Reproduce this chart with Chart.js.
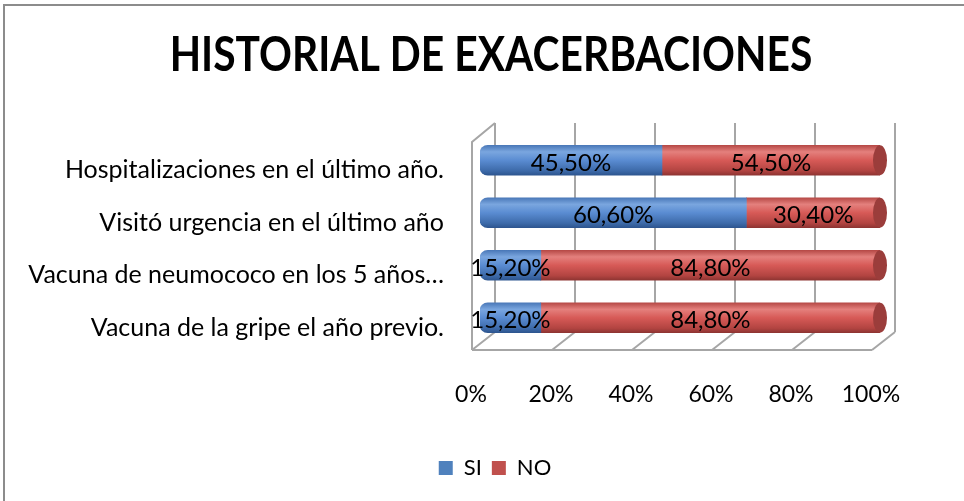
<!DOCTYPE html>
<html>
<head>
<meta charset="utf-8">
<script src="https://cdn.jsdelivr.net/npm/chart.js@4/dist/chart.umd.min.js"></script>
<style>
  html, body { margin: 0; padding: 0; background: #fff; overflow: hidden; }
  #wrap { position: relative; width: 964px; height: 501px; }
  #frame { position: absolute; left: 3px; top: 4px; width: 1000px; height: 600px;
           border-left: 2px solid #8c8c8c; border-top: 2px solid #8c8c8c; }
  #c { position: absolute; left: 0; top: 0; }
</style>
</head>
<body>
<div id="wrap">
  <div id="frame"></div>
  <canvas id="c" width="964" height="501"></canvas>
</div>
<script>
// historial de exacerbaciones - barras apiladas al 100%

const chartTitle = 'HISTORIAL DE EXACERBACIONES'
const categories = [
    'Hospitalizaciones en el último año.',
    'Visitó urgencia en el último año',
    'Vacuna de neumococo en los 5 años…',
    'Vacuna de la gripe el año previo.'
]
const seriesNames = ['SI', 'NO']
const siValues = [45.5, 60.6, 15.2, 15.2]
const noValues = [54.5, 30.4, 84.8, 84.8]

const FONT = 'Lato, "Open Sans", sans-serif'
const legendColors = ['#4f81bd', '#c0504d']

// share of each row (the chart is 100% stacked)
const share = (vals, other) => vals.map((v, i) => v / (v + other[i]) * 100)

const fmt = (v) => v.toFixed(2).replace('.', ',') + '%'

const cylinder = (stops) => (ctx) => {
    const chart = ctx.chart
    const ys = chart.scales.y
    if (!ys || ctx.dataIndex === undefined) return stops[2][1]
    const yc = ys.getPixelForValue(ctx.dataIndex)
    const g = chart.ctx.createLinearGradient(0, yc - 15, 0, yc + 15)
    stops.forEach(s => g.addColorStop(s[0], s[1]))
    return g
}

const blueStops = [[0, '#4a78b8'], [0.22, '#7aa6df'], [0.5, '#5a8cd2'], [0.85, '#3d6aa9'], [1, '#2d558f']]
const redStops = [[0, '#b64946'], [0.22, '#e4807d'], [0.5, '#d75a57'], [0.85, '#b24441'], [1, '#8e3432']]

// 3d frame: back wall, floor, left wall
const framePlugin = {
    id: 'frame3d',
    afterLayout(chart) {
        // the legend sits centred under the whole plot, not under the axis box
        if (chart.legend) chart.legend.left += 110
    },
    beforeDatasetsDraw(chart) {
        const { ctx, chartArea, scales } = chart
        const xs = scales.x
        const fx = -8, bx = 15
        const frontY = chartArea.bottom + 6, backY = chartArea.bottom - 12
        const topBack = chartArea.top - 11, topFront = chartArea.top + 8
        ctx.save()
        ctx.strokeStyle = '#a6a6a6'
        ctx.lineWidth = 2
        ctx.beginPath()
        xs.ticks.forEach(t => {
            const px = xs.getPixelForValue(t.value)
            ctx.moveTo(px + bx, topBack)
            ctx.lineTo(px + bx, backY)
            ctx.moveTo(px + fx, frontY)
            ctx.lineTo(px + bx, backY)
        })
        const x0 = xs.getPixelForValue(0), x1 = xs.getPixelForValue(100)
        ctx.moveTo(x0 + fx, frontY)
        ctx.lineTo(x1 + fx, frontY)
        ctx.moveTo(x0 + fx, frontY)
        ctx.lineTo(x0 + fx, topFront)
        ctx.lineTo(x0 + bx, topBack)
        ctx.stroke()
        ctx.restore()
    }
}

const labelsPlugin = {
    id: 'barLabels',
    afterDatasetsDraw(chart) {
        const ctx = chart.ctx
        ctx.save()
        // right caps of the cylinders
        const last = chart.getDatasetMeta(1)
        last.data.forEach(el => {
            ctx.beginPath()
            ctx.ellipse(el.x, el.y, 7, 15, 0, 0, Math.PI * 2)
            ctx.fillStyle = '#9b3d3b'
            ctx.fill()
        })
        ctx.font = '24px ' + FONT
        ctx.fillStyle = '#000'
        ctx.textAlign = 'center'
        ctx.textBaseline = 'middle'
        const raw = [siValues, noValues]
        chart.data.datasets.forEach((ds, di) => {
            chart.getDatasetMeta(di).data.forEach((el, i) => {
                ctx.fillText(fmt(raw[di][i]), (el.x + el.base) / 2, el.y + 3)
            })
        })
        ctx.restore()
    },
    afterDraw(chart) {
        const ctx = chart.ctx
        ctx.save()
        ctx.font = 'bold 48px ' + FONT
        ctx.fillStyle = '#000'
        ctx.textAlign = 'center'
        ctx.textBaseline = 'middle'
        ctx.translate(491, 56)
        ctx.scale(0.85, 1)
        ctx.fillText(chartTitle, 0, 0)
        ctx.restore()
    }
}

new Chart(document.getElementById('c'), {
    type: 'bar',
    data: {
        labels: categories,
        datasets: [
            {
                label: seriesNames[0],
                data: share(siValues, noValues),
                backgroundColor: cylinder(blueStops),
                borderSkipped: false,
                borderRadius: { topLeft: 8, bottomLeft: 8, topRight: 0, bottomRight: 0 },
                barThickness: 30
            },
            {
                label: seriesNames[1],
                data: share(noValues, siValues),
                backgroundColor: cylinder(redStops),
                borderSkipped: false,
                borderRadius: 0,
                barThickness: 30
            }
        ]
    },
    options: {
        indexAxis: 'y',
        responsive: false,
        animation: false,
        layout: { padding: { left: 0, right: 84, top: 134, bottom: 12 } },
        scales: {
            x: {
                stacked: true,
                min: 0,
                max: 100,
                grid: { display: false },
                border: { display: false },
                ticks: {
                    stepSize: 20,
                    padding: 29,
                    labelOffset: -9,
                    color: '#000',
                    font: { family: FONT, size: 23 },
                    callback: (v) => v + '%'
                },
                afterFit: (scale) => { scale.height = 103 }
            },
            y: {
                stacked: true,
                grid: { display: false },
                border: { display: false },
                ticks: {
                    padding: 28,
                    labelOffset: 10,
                    color: '#000',
                    font: { family: FONT, size: 25 }
                },
                afterFit: (scale) => { scale.width = 480 }
            }
        },
        plugins: {
            tooltip: { enabled: false },
            legend: {
                position: 'bottom',
                labels: {
                    boxWidth: 14,
                    boxHeight: 14,
                    padding: 10,
                    color: '#000',
                    font: { family: FONT, size: 22 },
                    generateLabels: (chart) => chart.data.datasets.map((ds, i) => ({
                        text: ds.label,
                        fillStyle: legendColors[i],
                        strokeStyle: legendColors[i],
                        lineWidth: 0,
                        fontColor: '#000',
                        datasetIndex: i,
                        hidden: false
                    }))
                }
            }
        }
    },
    plugins: [framePlugin, labelsPlugin]
})
</script>
</body>
</html>
